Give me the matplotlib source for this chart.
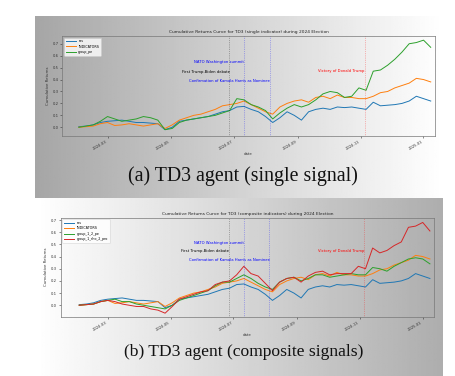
import numpy as np
import pandas as pd
import matplotlib
matplotlib.use('Agg')
import matplotlib.pyplot as plt
import matplotlib.dates as mdates

# dates sampled roughly weekly
dates = pd.date_range('2024-02-02', '2025-01-08', periods=50)

ros = [0.005, 0.01, 0.02, 0.04, 0.05, 0.055, 0.06, 0.05, 0.04, 0.04,
       0.035, 0.03, -0.02, 0.0, 0.05, 0.06, 0.07, 0.08, 0.09, 0.11,
       0.13, 0.14, 0.17, 0.175, 0.15, 0.13, 0.09, 0.04, 0.08, 0.13,
       0.10, 0.06, 0.13, 0.15, 0.16, 0.15, 0.17, 0.165, 0.17, 0.16,
       0.15, 0.21, 0.18, 0.185, 0.19, 0.20, 0.22, 0.26, 0.24, 0.22]
indicators = [0.0, 0.005, 0.01, 0.03, 0.04, 0.015, 0.02, 0.03, 0.02, 0.01,
              0.02, 0.03, -0.01, 0.02, 0.06, 0.08, 0.10, 0.11, 0.13, 0.15,
              0.18, 0.19, 0.20, 0.22, 0.19, 0.16, 0.13, 0.11, 0.17, 0.20,
              0.22, 0.23, 0.21, 0.25, 0.26, 0.24, 0.27, 0.25, 0.25, 0.24,
              0.24, 0.26, 0.29, 0.30, 0.33, 0.35, 0.37, 0.41, 0.40, 0.38]
group_pe = [0.0, 0.01, 0.02, 0.05, 0.09, 0.07, 0.05, 0.06, 0.07, 0.09,
            0.08, 0.06, -0.02, -0.01, 0.04, 0.06, 0.07, 0.08, 0.09, 0.10,
            0.12, 0.14, 0.24, 0.23, 0.19, 0.17, 0.14, 0.07, 0.12, 0.16,
            0.19, 0.17, 0.19, 0.23, 0.28, 0.30, 0.29, 0.25, 0.26, 0.33,
            0.31, 0.47, 0.48, 0.52, 0.57, 0.63, 0.70, 0.71, 0.73, 0.67]
group_1_2_pe = [0.0, 0.005, 0.01, 0.03, 0.04, 0.05, 0.03, 0.03, 0.01, 0.0,
                -0.01, -0.02, -0.03, 0.0, 0.04, 0.06, 0.08, 0.10, 0.12, 0.16,
                0.19, 0.19, 0.22, 0.25, 0.22, 0.18, 0.15, 0.13, 0.19, 0.22,
                0.23, 0.20, 0.22, 0.25, 0.25, 0.23, 0.24, 0.25, 0.26, 0.25,
                0.25, 0.31, 0.30, 0.28, 0.32, 0.35, 0.38, 0.39, 0.38, 0.34]
group_1_rho_2_pro = [0.0, 0.005, 0.01, 0.03, 0.04, 0.03, 0.01, 0.0, -0.01, -0.01,
                     -0.03, -0.04, -0.065, -0.01, 0.05, 0.07, 0.09, 0.11, 0.12, 0.17,
                     0.19, 0.20, 0.25, 0.32, 0.26, 0.24, 0.18, 0.12, 0.19, 0.22,
                     0.23, 0.19, 0.24, 0.27, 0.28, 0.25, 0.26, 0.26, 0.26, 0.32,
                     0.30, 0.47, 0.43, 0.45, 0.49, 0.52, 0.64, 0.65, 0.68, 0.61]

# events: (date, label, colour)
events = [('2024-06-27', 'First Trump-Biden debate', 'black'),
          ('2024-07-11', 'NATO Washington summit', 'blue'),
          ('2024-08-05', 'Confirmation of Kamala Harris as Nominee', 'blue'),
          ('2024-11-05', 'Victory of Donald Trump', 'red')]

colors = ['#1f77b4', '#ff7f0e', '#2ca02c', '#d62728']

fig = plt.figure(figsize=(4.56, 3.76), dpi=100)

# gradient backgrounds of the two panels
bg = fig.add_axes([0, 0, 1, 1], zorder=-10)
bg.axis('off')
g = np.linspace(0, 1, 256)
top_grad = np.tile(0.65 + 0.35 * g, (2, 1))
bot_grad = np.tile(1.0 - 0.32 * g, (2, 1))
bg.imshow(top_grad, cmap='gray', vmin=0, vmax=1, extent=(35, 443, 198, 16), aspect='auto')
bg.imshow(bot_grad, cmap='gray', vmin=0, vmax=1, extent=(35, 443, 376, 198), aspect='auto')
bg.set_xlim(0, 456)
bg.set_ylim(376, 0)


def panel(rect, title, series, names, ylim, xlim, ytext):
    ax = fig.add_axes(rect)
    ax.set_facecolor('none')
    for i, (s, n) in enumerate(zip(series, names)):
        ax.plot(dates, s, color=colors[i], lw=0.7, label=n)
    for (d, lab, c), yt in zip(events, ytext):
        ax.axvline(pd.Timestamp(d), color=c, ls=':', lw=0.5, alpha=0.5)
        ax.text(pd.Timestamp(d), yt, lab, color=c, fontsize=2.7, ha='right', va='center')
    ax.set_xlim(pd.Timestamp(xlim[0]), pd.Timestamp(xlim[1]))
    ax.set_ylim(*ylim)
    ax.set_yticks(np.arange(0, 0.71, 0.1))
    ax.yaxis.set_major_formatter(matplotlib.ticker.FormatStrFormatter('%.1f'))
    ax.xaxis.set_major_locator(mdates.MonthLocator(bymonth=[1, 3, 5, 7, 9, 11]))
    ax.xaxis.set_major_formatter(mdates.DateFormatter('%Y-%m'))
    ax.tick_params(labelsize=2.7, length=1.5, width=0.4, pad=1, colors='#333333')
    for lab in ax.get_xticklabels():
        lab.set_rotation(30)
        lab.set_ha('right')
    for sp in ax.spines.values():
        sp.set_linewidth(0.5)
        sp.set_color('#777777')
    ax.set_title(title, fontsize=3.2, pad=2, color='#222222')
    ax.set_xlabel('date', fontsize=2.8, labelpad=1, color='#333333')
    ax.set_ylabel('Cumulative Returns', fontsize=2.8, labelpad=2, color='#333333')
    ax.legend(loc='upper left', fontsize=2.4, frameon=True, handlelength=3,
              borderpad=0.5, labelspacing=0.4).get_frame().set_linewidth(0.4)
    return ax


panel([0.1366, 0.6383, 0.817, 0.266],
      'Cumulative Returns Curve for TD3 (single indicator) during 2024 Election',
      [ros, indicators, group_pe], ['ros', 'INDICATORS', 'group_pe'],
      (-0.073, 0.765), ('2024-01-17', '2025-01-12'),
      [0.466, 0.545, 0.39, 0.47])

panel([0.1331, 0.1577, 0.8187, 0.2633],
      'Cumulative Returns Curve for TD3 (composite indicators) during 2024 Election',
      [ros, indicators, group_1_2_pe, group_1_rho_2_pro],
      ['ros', 'INDICATORS', 'group_1_2_pe', 'group_1_rho_2_pro'],
      (-0.094, 0.719), ('2024-01-15', '2025-01-12'),
      [0.443, 0.513, 0.369, 0.443])

fig.text(242.5 / 456, 1 - 176.5 / 376, '(a) TD3 agent (single signal)',
         family='Liberation Serif', fontsize=14.3, ha='center', va='center', color='#111111')
fig.text(244 / 456, 1 - 351.5 / 376, '(b) TD3 agent (composite signals)',
         family='Liberation Serif', fontsize=12.6, ha='center', va='center', color='#111111')

fig.savefig('out.png', dpi=100)
